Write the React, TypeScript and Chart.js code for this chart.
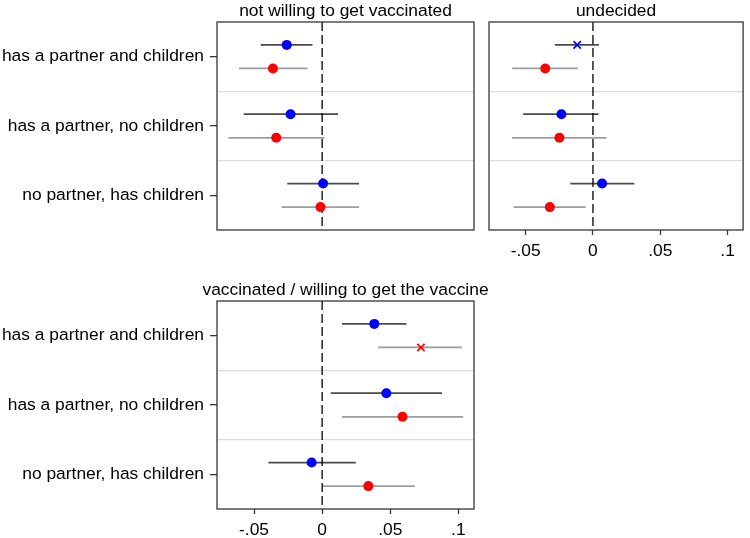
import React, { useEffect, useRef } from 'react';
import { Chart, registerables } from 'chart.js';

Chart.register(...registerables);

// ---------- data ----------
const categories = ['has a partner and children', 'has a partner, no children', 'no partner, has children'];
const xTickValues = [-0.05, 0, 0.05, 0.1];
const xTickLabels = ['-.05', '0', '.05', '.1'];
const xMin = -0.0772;
const xMax = 0.1115;
const rowOffset = 0.17;

// not willing to get vaccinated
const nwBlue = [-0.026, -0.0232, 0.0007];
const nwBlueLo = [-0.0451, -0.0576, -0.0256];
const nwBlueHi = [-0.0071, 0.0117, 0.0271];
const nwBlueMarkers = ['circle', 'circle', 'circle'];
const nwRed = [-0.0361, -0.0337, -0.0012];
const nwRedLo = [-0.061, -0.0688, -0.0298];
const nwRedHi = [-0.0107, 0.0017, 0.0271];
const nwRedMarkers = ['circle', 'circle', 'circle'];

// undecided
const unBlue = [-0.0117, -0.0234, 0.0068];
const unBlueLo = [-0.0283, -0.0518, -0.0168];
const unBlueHi = [0.0044, 0.0041, 0.0307];
const unBlueMarkers = ['crossRot', 'circle', 'circle'];
const unRed = [-0.0354, -0.0249, -0.032];
const unRedLo = [-0.06, -0.06, -0.059];
const unRedHi = [-0.0113, 0.01, -0.0054];
const unRedMarkers = ['circle', 'circle', 'circle'];

// vaccinated / willing to get the vaccine
const vaBlue = [0.0383, 0.0471, -0.0077];
const vaBlueLo = [0.0145, 0.0063, -0.0395];
const vaBlueHi = [0.0618, 0.088, 0.0247];
const vaBlueMarkers = ['circle', 'circle', 'circle'];
const vaRed = [0.0725, 0.059, 0.0339];
const vaRedLo = [0.041, 0.0145, 0.0];
const vaRedHi = [0.1027, 0.1036, 0.068];
const vaRedMarkers = ['crossRot', 'circle', 'circle'];

// ---------- styles ----------
const BLUE = '#0000ff';
const RED = '#ff0000';
const BLUE_CI = '#4a4a4a';
const RED_CI = '#9c9c9c';
const FRAME = '#363636';
const SEP = '#dcdcdc';
const FONT = "'Liberation Sans', Arial, sans-serif";
const FSIZE = 17.4;

const framePlugin = {
  id: 'frame',
  afterDatasetsDraw(chart: any) {
    const { ctx, chartArea } = chart;
    ctx.save();
    ctx.strokeStyle = FRAME;
    ctx.lineWidth = 1.3;
    ctx.strokeRect(chartArea.left, chartArea.top, chartArea.right - chartArea.left, chartArea.bottom - chartArea.top);
    ctx.restore();
  },
};

type PanelProps = {
  title: string;
  blue: number[]; blueLo: number[]; blueHi: number[]; blueMarkers: string[];
  red: number[]; redLo: number[]; redHi: number[]; redMarkers: string[];
  showY: boolean;
  showX: boolean;
  titleFull: boolean;
  left: number; top: number; width: number; height: number;
  pad: { left: number; right: number; top: number; bottom: number };
  yWidth: number;
  y2Width: number;
  xHeight: number;
};

function Panel(p: PanelProps) {
  const ref = useRef<HTMLCanvasElement>(null);
  useEffect(() => {
    if (!ref.current) return;
    const datasets: any[] = [];
    const addSeries = (vals: number[], lo: number[], hi: number[], markers: string[], off: number, color: string, ciColor: string) => {
      vals.forEach((_, i) => {
        const y = i + 0.5 + off;
        datasets.push({
          type: 'scatter',
          showLine: true,
          data: [{ x: lo[i], y }, { x: hi[i], y }],
          borderColor: ciColor,
          borderWidth: 1.7,
          pointRadius: 0,
          pointHoverRadius: 0,
          order: 3,
        });
      });
      datasets.push({
        type: 'scatter',
        data: vals.map((v, i) => ({ x: v, y: i + 0.5 + off })),
        pointStyle: markers,
        pointRadius: markers.map((m) => (m === 'circle' ? 5 : 5.2)),
        backgroundColor: color,
        borderColor: color,
        pointBorderWidth: markers.map((m) => (m === 'circle' ? 0 : 1.7)),
        order: 0,
      });
    };
    addSeries(p.blue, p.blueLo, p.blueHi, p.blueMarkers, -rowOffset, BLUE, BLUE_CI);
    addSeries(p.red, p.redLo, p.redHi, p.redMarkers, rowOffset, RED, RED_CI);
    datasets.push({
      type: 'scatter',
      showLine: true,
      data: [{ x: 0, y: 0 }, { x: 0, y: categories.length }],
      borderColor: '#000',
      borderWidth: 1.3,
      borderDash: [9, 4],
      pointRadius: 0,
      order: 1,
    });

    const chart = new Chart(ref.current, {
      type: 'scatter',
      data: { datasets },
      plugins: [framePlugin],
      options: {
        animation: false,
        responsive: false,
        events: [],
        layout: { padding: p.pad },
        plugins: {
          legend: { display: false },
          tooltip: { enabled: false },
          title: {
            display: true,
            text: p.title,
            fullSize: p.titleFull,
            color: '#000',
            font: { family: FONT, size: FSIZE, weight: 'normal', lineHeight: 20 / FSIZE },
            padding: { top: 1, bottom: 1 },
          },
        },
        scales: {
          x: {
            type: 'linear',
            display: p.showX,
            min: xMin,
            max: xMax,
            afterBuildTicks: (s: any) => { s.ticks = xTickValues.map((v) => ({ value: v })); },
            afterFit: (s: any) => { s.height = p.xHeight; },
            ticks: {
              color: '#000',
              font: { family: FONT, size: FSIZE },
              padding: 6,
              maxRotation: 0,
              autoSkip: false,
              callback: (v: any) => {
                const idx = xTickValues.findIndex((t) => Math.abs(t - Number(v)) < 1e-9);
                return idx >= 0 ? xTickLabels[idx] : '';
              },
            },
            grid: { drawOnChartArea: false, drawTicks: true, tickLength: 5, tickColor: FRAME, tickWidth: 1.3 },
            border: { display: false },
          },
          y: {
            type: 'linear',
            min: 0,
            max: categories.length,
            reverse: true,
            afterBuildTicks: (s: any) => {
              const t: any[] = [];
              for (let i = 0; i <= categories.length * 2; i++) t.push({ value: i / 2 });
              s.ticks = t;
            },
            afterFit: (s: any) => { s.width = p.yWidth; },
            ticks: {
              display: p.showY,
              color: '#000',
              font: { family: FONT, size: FSIZE },
              padding: 6,
              autoSkip: false,
              callback: (v: any) => {
                const n = Number(v);
                if (Math.abs(n - Math.round(n)) < 1e-9) return '';
                return categories[Math.floor(n)];
              },
            },
            grid: {
              drawTicks: p.showY,
              tickLength: 7,
              lineWidth: 1.3,
              tickWidth: 1.3,
              color: (c: any) => {
                const v = c.tick ? c.tick.value : 0;
                return Math.abs(v - Math.round(v)) < 1e-9 && v > 0 && v < categories.length ? SEP : 'rgba(0,0,0,0)';
              },
              tickColor: (c: any) => {
                const v = c.tick ? c.tick.value : 0;
                return Math.abs(v - Math.round(v)) < 1e-9 ? 'rgba(0,0,0,0)' : FRAME;
              },
            },
            border: { display: false },
          },
          y2: {
            type: 'linear',
            position: 'right',
            display: p.y2Width > 0,
            min: 0,
            max: 1,
            afterFit: (s: any) => { s.width = p.y2Width; },
            ticks: { display: false },
            grid: { display: false },
            border: { display: false },
          },
        },
      } as any,
    });
    return () => chart.destroy();
  }, []);
  return (
    <canvas
      ref={ref}
      width={p.width}
      height={p.height}
      style={{ position: 'absolute', left: p.left, top: p.top, width: p.width, height: p.height }}
    />
  );
}

export default function App() {
  return (
    <div style={{ position: 'absolute', left: 0, top: 0, width: 750, height: 538, background: '#fff' }}>
      <Panel
        title="not willing to get vaccinated"
        blue={nwBlue} blueLo={nwBlueLo} blueHi={nwBlueHi} blueMarkers={nwBlueMarkers}
        red={nwRed} redLo={nwRedLo} redHi={nwRedHi} redMarkers={nwRedMarkers}
        showY={true} showX={false} titleFull={false}
        left={0} top={0} width={480} height={260}
        pad={{ left: 0, right: 6, top: 0, bottom: 30 }}
        yWidth={217} y2Width={0} xHeight={0}
      />
      <Panel
        title="undecided"
        blue={unBlue} blueLo={unBlueLo} blueHi={unBlueHi} blueMarkers={unBlueMarkers}
        red={unRed} redLo={unRedLo} redHi={unRedHi} redMarkers={unRedMarkers}
        showY={false} showX={true} titleFull={false}
        left={480} top={0} width={270} height={260}
        pad={{ left: 9, right: 3, top: 0, bottom: 0 }}
        yWidth={0} y2Width={0} xHeight={30}
      />
      <Panel
        title="vaccinated / willing to get the vaccine"
        blue={vaBlue} blueLo={vaBlueLo} blueHi={vaBlueHi} blueMarkers={vaBlueMarkers}
        red={vaRed} redLo={vaRedLo} redHi={vaRedHi} redMarkers={vaRedMarkers}
        showY={true} showX={true} titleFull={true}
        left={0} top={260} width={700} height={278}
        pad={{ left: 0, right: 9, top: 19, bottom: 0 }}
        yWidth={217} y2Width={217} xHeight={29}
      />
    </div>
  );
}
